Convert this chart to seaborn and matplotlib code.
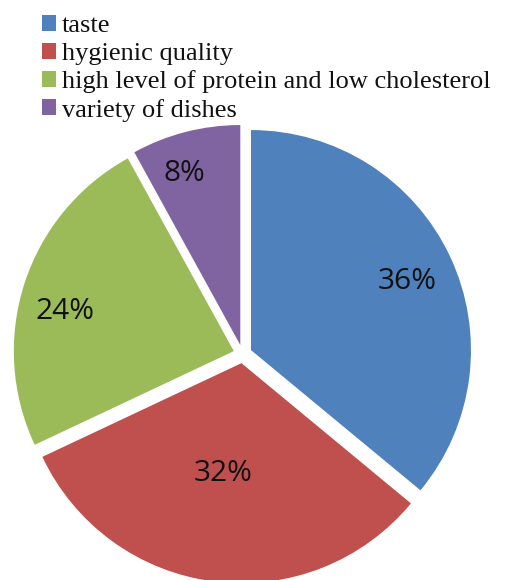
import matplotlib
matplotlib.use("Agg")
import matplotlib.pyplot as plt
import numpy as np
import seaborn as sns
from matplotlib.patches import Patch

sns.set_theme(style="white")

categories = ["taste", "hygienic quality",
              "high level of protein and low cholesterol", "variety of dishes"]
shares = [36, 32, 24, 8]
colors = sns.color_palette(["#4F81BD", "#C0504D", "#9BBB59", "#8064A2"])

# percentage label placement per slice: distance from the wedge apex
# (fraction of radius) and angular shift from the wedge bisector (degrees)
label_dist = [0.775, 0.508, 0.79, 0.818]
label_turn = [-1.4, -2.0, 4.8, 3.7]
explode_amt = 0.042

W, H = 517, 580
fig = plt.figure(figsize=(W / 100, H / 100), dpi=100)

# pie axes: radius 220 px, centred at (242.6, 354) from the top-left corner
R = 220.0
cx, cy = 242.6, 354.0
half = 1.2 * R
ax = fig.add_axes([(cx - half) / W, (H - cy - half) / H, 2 * half / W, 2 * half / H])

wedges, _ = ax.pie(shares, colors=colors, startangle=90, counterclock=False,
                   explode=[explode_amt] * len(shares),
                   wedgeprops=dict(linewidth=0))
ax.set_xlim(-1.2, 1.2)
ax.set_ylim(-1.2, 1.2)
ax.set_aspect("equal")
ax.axis("off")

for w, v, d, turn in zip(wedges, shares, label_dist, label_turn):
    ang = np.deg2rad((w.theta1 + w.theta2) / 2 + turn)
    ox, oy = w.center
    ax.text(ox + d * np.cos(ang), oy + d * np.sin(ang), f"{v}%",
            ha="center", va="center", fontsize=21.5, color="#111111",
            family="Open Sans")

handles = [Patch(facecolor=c, edgecolor="none") for c in colors]
leg = fig.legend(handles, categories, loc="upper left",
                 bbox_to_anchor=(42 / W, 1 - 15 / H),
                 frameon=False, borderpad=0, borderaxespad=0,
                 handlelength=0.54, handleheight=0.57, handletextpad=0.22,
                 labelspacing=0.2,
                 prop=dict(family="Liberation Serif", size=19))
for t in leg.get_texts():
    t.set_color("#111111")

fig.savefig("out.png", dpi=100)
